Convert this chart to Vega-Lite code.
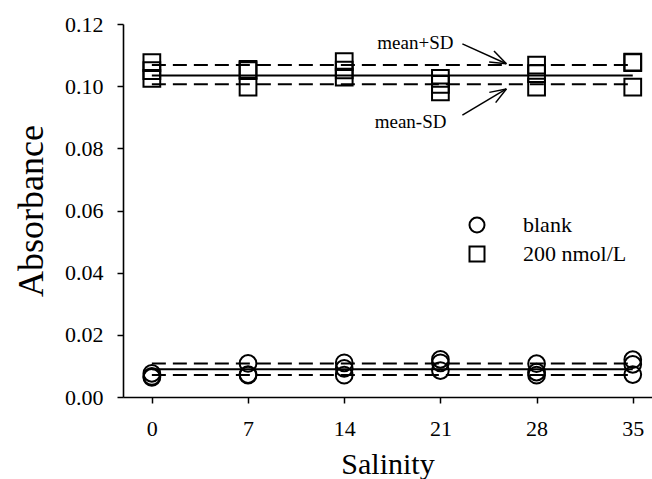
{
  "$schema": "https://vega.github.io/schema/vega-lite/v6.json",
  "width": 529,
  "height": 373,
  "autosize": {"type": "none"},
  "padding": {"left": 123, "top": 24, "right": 0, "bottom": 82},
  "background": "white",
  "config": {
    "view": {"stroke": null},
    "font": "Liberation Serif",
    "axis": {
      "grid": false,
      "domainColor": "black",
      "domainWidth": 1.6,
      "tickColor": "black",
      "tickWidth": 1.5,
      "tickSize": 6,
      "labelFont": "Liberation Serif",
      "labelFontSize": 22,
      "labelColor": "black",
      "titleFont": "Liberation Serif",
      "titleFontWeight": "normal",
      "titleColor": "black"
    }
  },
  "datasets": {
    "points": [
      {"salinity": 0, "absorbance": 0.1076, "series": "200 nmol/L"},
      {"salinity": 0, "absorbance": 0.1050, "series": "200 nmol/L"},
      {"salinity": 0, "absorbance": 0.1025, "series": "200 nmol/L"},
      {"salinity": 7, "absorbance": 0.1054, "series": "200 nmol/L"},
      {"salinity": 7, "absorbance": 0.1050, "series": "200 nmol/L"},
      {"salinity": 7, "absorbance": 0.0997, "series": "200 nmol/L"},
      {"salinity": 14, "absorbance": 0.1079, "series": "200 nmol/L"},
      {"salinity": 14, "absorbance": 0.1052, "series": "200 nmol/L"},
      {"salinity": 14, "absorbance": 0.1029, "series": "200 nmol/L"},
      {"salinity": 21, "absorbance": 0.1025, "series": "200 nmol/L"},
      {"salinity": 21, "absorbance": 0.1006, "series": "200 nmol/L"},
      {"salinity": 21, "absorbance": 0.0982, "series": "200 nmol/L"},
      {"salinity": 28, "absorbance": 0.1068, "series": "200 nmol/L"},
      {"salinity": 28, "absorbance": 0.1040, "series": "200 nmol/L"},
      {"salinity": 28, "absorbance": 0.0997, "series": "200 nmol/L"},
      {"salinity": 35, "absorbance": 0.1077, "series": "200 nmol/L"},
      {"salinity": 35, "absorbance": 0.1076, "series": "200 nmol/L"},
      {"salinity": 35, "absorbance": 0.0997, "series": "200 nmol/L"},
      {"salinity": 0, "absorbance": 0.0076, "series": "blank"},
      {"salinity": 0, "absorbance": 0.0066, "series": "blank"},
      {"salinity": 0, "absorbance": 0.0063, "series": "blank"},
      {"salinity": 7, "absorbance": 0.0108, "series": "blank"},
      {"salinity": 7, "absorbance": 0.0072, "series": "blank"},
      {"salinity": 7, "absorbance": 0.0070, "series": "blank"},
      {"salinity": 14, "absorbance": 0.0110, "series": "blank"},
      {"salinity": 14, "absorbance": 0.0092, "series": "blank"},
      {"salinity": 14, "absorbance": 0.0070, "series": "blank"},
      {"salinity": 21, "absorbance": 0.0121, "series": "blank"},
      {"salinity": 21, "absorbance": 0.0110, "series": "blank"},
      {"salinity": 21, "absorbance": 0.0085, "series": "blank"},
      {"salinity": 28, "absorbance": 0.0107, "series": "blank"},
      {"salinity": 28, "absorbance": 0.0080, "series": "blank"},
      {"salinity": 28, "absorbance": 0.0070, "series": "blank"},
      {"salinity": 35, "absorbance": 0.0120, "series": "blank"},
      {"salinity": 35, "absorbance": 0.0105, "series": "blank"},
      {"salinity": 35, "absorbance": 0.0072, "series": "blank"}
    ],
    "stats": [
      {"series": "200 nmol/L", "stat": "mean", "style": "solid", "value": 0.1034, "x0": 0, "x1": 35},
      {"series": "200 nmol/L", "stat": "mean+SD", "style": "dashed", "value": 0.1068, "x0": 0, "x1": 35},
      {"series": "200 nmol/L", "stat": "mean-SD", "style": "dashed", "value": 0.1006, "x0": 0, "x1": 35},
      {"series": "blank", "stat": "mean", "style": "solid", "value": 0.0089, "x0": 0, "x1": 35},
      {"series": "blank", "stat": "mean+SD", "style": "dashed", "value": 0.0108, "x0": 0, "x1": 35},
      {"series": "blank", "stat": "mean-SD", "style": "dashed", "value": 0.0071, "x0": 0, "x1": 35}
    ],
    "arrows": [
      {"arrow": "up", "xa": 22.60, "ya": 0.1136, "xb": 25.80, "yb": 0.1072},
      {"arrow": "up", "xa": 24.90, "ya": 0.1113, "xb": 25.80, "yb": 0.1072},
      {"arrow": "up", "xa": 24.55, "ya": 0.10775, "xb": 25.80, "yb": 0.1072},
      {"arrow": "down", "xa": 22.60, "ya": 0.0907, "xb": 25.80, "yb": 0.0991},
      {"arrow": "down", "xa": 24.56, "ya": 0.0980, "xb": 25.80, "yb": 0.0991},
      {"arrow": "down", "xa": 25.02, "ya": 0.0947, "xb": 25.80, "yb": 0.0991}
    ],
    "labels": [
      {"label": "mean+SD", "x": 21.95, "y": 0.1138},
      {"label": "mean-SD", "x": 21.44, "y": 0.0886}
    ]
  },
  "layer": [
    {
      "data": {"name": "stats"},
      "mark": {"type": "rule", "color": "black", "strokeWidth": 2},
      "encoding": {
        "x": {"field": "x0", "type": "quantitative", "scale": {"domain": [-2.1, 36.4], "nice": false, "zero": false},
          "axis": {"values": [0, 7, 14, 21, 28, 35], "title": "Salinity", "titleFontSize": 30, "labelPadding": 15, "titlePadding": 10, "tickSize": 6,
            "labelFont": "Liberation Serif", "titleFont": "Liberation Serif", "labelFontSize": 22}},
        "x2": {"field": "x1"},
        "y": {"field": "value", "type": "quantitative", "scale": {"domain": [0, 0.12], "nice": false, "zero": true},
          "axis": {"values": [0, 0.02, 0.04, 0.06, 0.08, 0.10, 0.12], "format": ".2f", "title": "Absorbance", "titleFontSize": 36, "labelPadding": 14, "titlePadding": 14,
            "labelFont": "Liberation Serif", "titleFont": "Liberation Serif", "labelFontSize": 22}},
        "strokeDash": {"field": "style", "type": "nominal", "scale": {"domain": ["solid", "dashed"], "range": [[1, 0], [14, 7]]}, "legend": null}
      }
    },
    {
      "mark": {"type": "rule", "color": "black", "strokeWidth": 1.6},
      "encoding": {"y": {"datum": 0.12}}
    },
    {
      "data": {"name": "points"},
      "mark": {"type": "point", "filled": false, "color": "black", "strokeWidth": 2, "size": 280, "opacity": 1},
      "encoding": {
        "x": {"field": "salinity", "type": "quantitative"},
        "y": {"field": "absorbance", "type": "quantitative"},
        "shape": {"field": "series", "type": "nominal",
          "scale": {"domain": ["blank", "200 nmol/L"], "range": ["circle", "square"]},
          "legend": {"title": null, "orient": "none", "legendX": 343, "legendY": 190, "padding": 0,
            "symbolSize": 225, "symbolStrokeWidth": 2, "symbolStrokeColor": "black", "symbolFillColor": "transparent",
            "labelFont": "Liberation Serif", "labelFontSize": 22, "labelColor": "black", "labelOffset": 35, "rowPadding": 5}}
      }
    },
    {
      "data": {"name": "arrows"},
      "mark": {"type": "rule", "color": "black", "strokeWidth": 1.5},
      "encoding": {
        "x": {"field": "xa", "type": "quantitative"},
        "y": {"field": "ya", "type": "quantitative"},
        "x2": {"field": "xb"},
        "y2": {"field": "yb"},
        "detail": {"field": "arrow"}
      }
    },
    {
      "data": {"name": "labels"},
      "mark": {"type": "text", "align": "right", "baseline": "middle", "font": "Liberation Serif", "fontSize": 19, "color": "black"},
      "encoding": {
        "x": {"field": "x", "type": "quantitative"},
        "y": {"field": "y", "type": "quantitative"},
        "text": {"field": "label"}
      }
    }
  ]
}
